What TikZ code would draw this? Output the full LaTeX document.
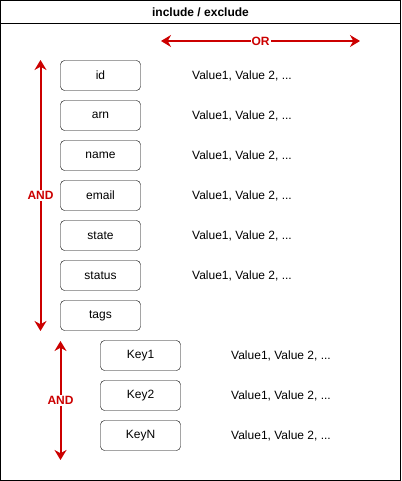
\documentclass[tikz,border=0pt]{standalone}
\usepackage{fontspec}
\setmainfont{Liberation Sans}
\usetikzlibrary{arrows.meta}
\definecolor{opred}{HTML}{CC0000}
\tikzstyle{field}=[draw, rounded corners=4pt, minimum width=80pt, minimum height=30pt, inner sep=0pt, font=\fontsize{12}{14}\selectfont]
\tikzstyle{valuetext}=[anchor=west, inner sep=0pt, font=\fontsize{12}{14}\selectfont]
\tikzstyle{oparrow}=[draw=opred, line width=2pt, {Stealth[length=10pt,width=12pt]}-{Stealth[length=10pt,width=12pt]}]
\tikzstyle{oplabel}=[fill=white, text=opred, inner sep=1pt, font=\fontsize{12}{14}\selectfont\bfseries]

\begin{document}
\begin{tikzpicture}[x=1pt, y=-1pt]
		   \useasboundingbox (0,0) rectangle (401,481);
		   \begin{scope}
			   \draw (0.5,0.5) rectangle (400.5,480.5);
			   \draw (0.5,23.5) -- (400.5,23.5);
			   \node (title) at (200.5,12)[font=\fontsize{12}{14}\selectfont\bfseries] {include / exclude};
		   \end{scope}
		   \begin{scope}
			   \node (id) at (100.5,75.5)[field] {id};
			   \node (arn) at (100.5,115.5)[field] {arn};
			   \node (name) at (100.5,155.5)[field] {name};
			   \node (email) at (100.5,195.5)[field] {email};
			   \node (state) at (100.5,235.5)[field] {state};
			   \node (status) at (100.5,275.5)[field] {status};
			   \node (tags) at (100.5,315.5)[field] {tags};
			   \node (key1) at (140.5,355.5)[field] {Key1};
			   \node (key2) at (140.5,395.5)[field] {Key2};
			   \node (keyn) at (140.5,435.5)[field] {KeyN};
		   \end{scope}
		   \begin{scope}
			   \node (vid) at (192,75.5)[valuetext] {Value1, Value 2, ...};
			   \node (varn) at (192,115.5)[valuetext] {Value1, Value 2, ...};
			   \node (vname) at (192,155.5)[valuetext] {Value1, Value 2, ...};
			   \node (vemail) at (192,195.5)[valuetext] {Value1, Value 2, ...};
			   \node (vstate) at (192,235.5)[valuetext] {Value1, Value 2, ...};
			   \node (vstatus) at (192,275.5)[valuetext] {Value1, Value 2, ...};
			   \node (vkey1) at (231,355.5)[valuetext] {Value1, Value 2, ...};
			   \node (vkey2) at (231,395.5)[valuetext] {Value1, Value 2, ...};
			   \node (vkeyn) at (231,435.5)[valuetext] {Value1, Value 2, ...};
		   \end{scope}
		   \begin{scope}
			   \coordinate (orleft) at (161,41);
			   \coordinate (orright) at (360,41);
			   \coordinate (andtop) at (40.5,60);
			   \coordinate (andbot) at (40.5,331);
			   \coordinate (keytop) at (60.5,341);
			   \coordinate (keybot) at (60.5,460);
			   \path [oparrow] (orleft) -- (orright) node[pos=0.5, oplabel] {OR};
			   \path [oparrow] (andtop) -- (andbot) node[pos=0.5, oplabel] {AND};
			   \path [oparrow] (keytop) -- (keybot) node[pos=0.5, oplabel] {AND};
		   \end{scope}
	   \end{tikzpicture}
\end{document}
